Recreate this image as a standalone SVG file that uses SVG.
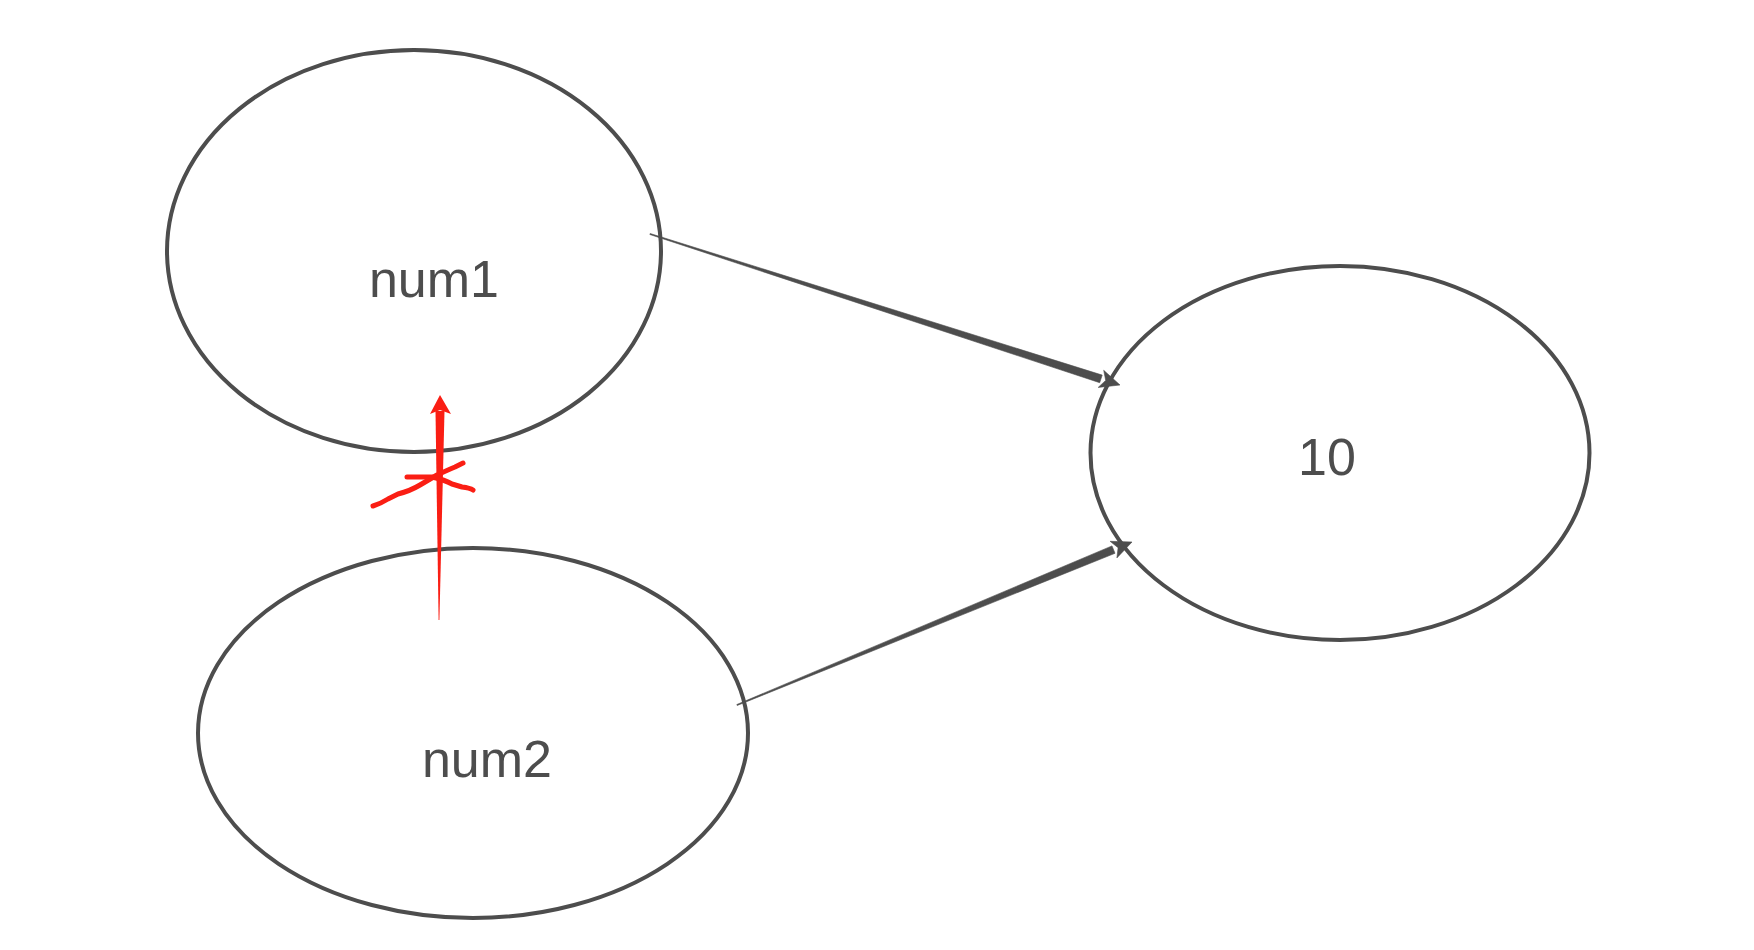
<svg xmlns="http://www.w3.org/2000/svg" width="1754" height="950" viewBox="0 0 1754 950">
<style>
.node{fill:#fff;stroke:#4d4d4d;stroke-width:4}
.lbl{font-family:"Liberation Sans",Arial,sans-serif;font-size:52px;fill:#4d4d4d;text-anchor:middle}
.con{fill:#4d4d4d;stroke:#4d4d4d;stroke-width:0.6;stroke-linejoin:round}
.red{fill:#fa1e14}
.scr{fill:none;stroke:#fa1e14;stroke-width:5;stroke-linecap:round;stroke-linejoin:round}
</style>
<rect width="1754" height="950" fill="#fff"/>
<g id="num1"><ellipse class="node" cx="414" cy="251" rx="247" ry="201"/><text class="lbl" x="434" y="297">num1</text></g>
<g id="num2"><ellipse class="node" cx="473" cy="733" rx="275" ry="185"/><text class="lbl" x="487" y="777">num2</text></g>
<g id="n10"><ellipse class="node" cx="1340" cy="453" rx="249.5" ry="187"/><text class="lbl" x="1327" y="475">10</text></g>
<g id="connectors">
<polygon class="con" points="649.85,234.48 1099.7,382.7 1102.2,375.1 650.15,233.52"/>
<polygon class="con" points="1120,385 1098.2,387.4 1105.7,380.4 1103.7,370.3"/>
<polygon class="con" points="737.19,705.46 1115.0,553.3 1112.0,545.9 736.81,704.54"/>
<polygon class="con" points="1132,542 1116.9,557.9 1118.1,547.7 1110.1,541.3"/>
<polygon class="red" points="438.6,620 435.5,411 444.5,411 439.4,620"/>
<polygon class="red" points="440,395 451,414 440,410 430,414"/>
<path class="scr" d="M407,477 L432,477 Q445,480 452,484 L462,487 Q470,488 473,490"/>
<path class="scr" d="M373,506 Q380,504 388,499 L398,494 Q410,491 420,485 L437,475 Q450,469 455,467 L463,463"/>
</g>
</svg>
